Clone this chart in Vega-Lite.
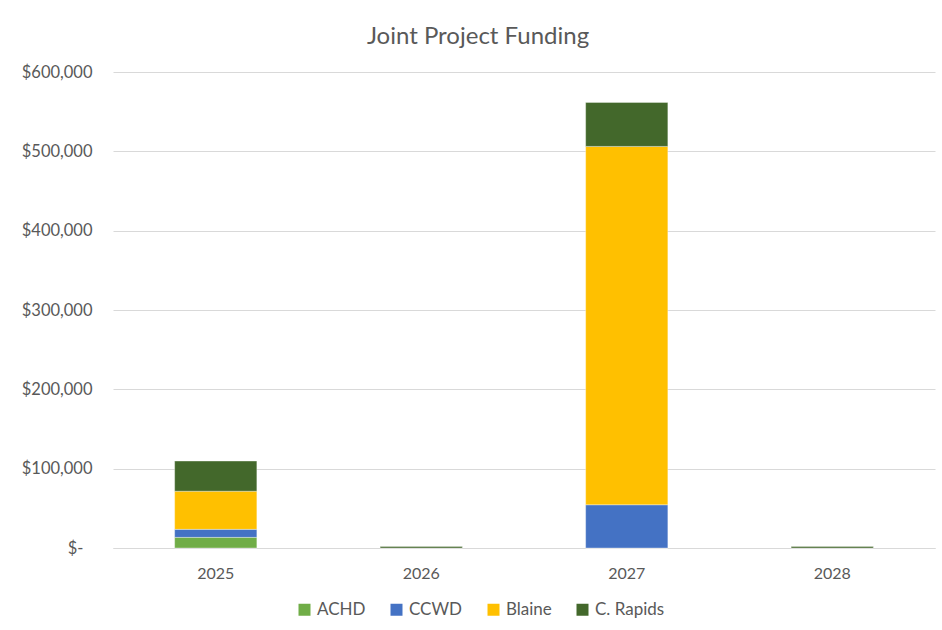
{
  "$schema": "https://vega.github.io/schema/vega-lite/v6.json",
  "width": 822,
  "height": 476,
  "autosize": {"type": "none"},
  "padding": {"left": 113, "top": 72, "right": 7, "bottom": 82},
  "background": "#ffffff",
  "title": {
    "text": "Joint Project Funding",
    "font": "Lato",
    "fontSize": 24,
    "fontWeight": "normal",
    "color": "#595959",
    "anchor": "middle",
    "dx": -46,
    "baseline": "alphabetic",
    "offset": -4
  },
  "data": {
    "values": [
      {"year": "2025", "series": "ACHD", "amount": 13400},
      {"year": "2025", "series": "CCWD", "amount": 10100},
      {"year": "2025", "series": "Blaine", "amount": 48100},
      {"year": "2025", "series": "C. Rapids", "amount": 38000},
      {"year": "2026", "series": "C. Rapids", "amount": 1800},
      {"year": "2027", "series": "ACHD", "amount": 0},
      {"year": "2027", "series": "CCWD", "amount": 54500},
      {"year": "2027", "series": "Blaine", "amount": 451700},
      {"year": "2027", "series": "C. Rapids", "amount": 55400},
      {"year": "2028", "series": "C. Rapids", "amount": 1800}
    ]
  },
  "transform": [
    {"calculate": "indexof(['ACHD','CCWD','Blaine','C. Rapids'], datum.series)", "as": "stackOrder"}
  ],
  "mark": {"type": "bar", "stroke": "#ffffff", "strokeOpacity": 0.35, "strokeWidth": 1},
  "encoding": {
    "x": {
      "field": "year",
      "type": "nominal",
      "scale": {"paddingInner": 0.6, "paddingOuter": 0.3},
      "axis": {
        "title": null,
        "labelAngle": 0,
        "labelFont": "Lato",
        "labelFontSize": 16,
        "labelColor": "#595959",
        "labelPadding": 17,
        "ticks": false,
        "domainColor": "#d9d9d9",
        "domainWidth": 1
      }
    },
    "y": {
      "field": "amount",
      "type": "quantitative",
      "stack": "zero",
      "scale": {"domain": [0, 600000], "nice": false},
      "axis": {
        "title": null,
        "values": [0, 100000, 200000, 300000, 400000, 500000, 600000],
        "labelExpr": "datum.value == 0 ? '$-' : '$' + format(datum.value, ',')",
        "labelFont": "Lato",
        "labelFontSize": 16.5,
        "labelColor": "#595959",
        "labelPadding": {"condition": {"test": "datum.value == 0", "value": 30}, "value": 21},
        "ticks": false,
        "domain": false,
        "gridColor": "#d9d9d9",
        "gridWidth": 1
      }
    },
    "color": {
      "field": "series",
      "type": "nominal",
      "scale": {
        "domain": ["ACHD", "CCWD", "Blaine", "C. Rapids"],
        "range": ["#70ad47", "#4472c4", "#ffc000", "#43682b"]
      },
      "legend": {
        "title": null,
        "orient": "none",
        "direction": "horizontal",
        "legendX": 183,
        "legendY": 529,
        "symbolType": "square",
        "symbolSize": 144,
        "symbolStrokeWidth": 0,
        "symbolOpacity": 1,
        "labelFont": "Lato",
        "labelFontSize": 17,
        "labelColor": "#595959",
        "labelOffset": 4,
        "columnPadding": 22
      }
    },
    "order": {"field": "stackOrder", "type": "quantitative", "sort": "ascending"}
  },
  "config": {
    "view": {"stroke": null}
  }
}
